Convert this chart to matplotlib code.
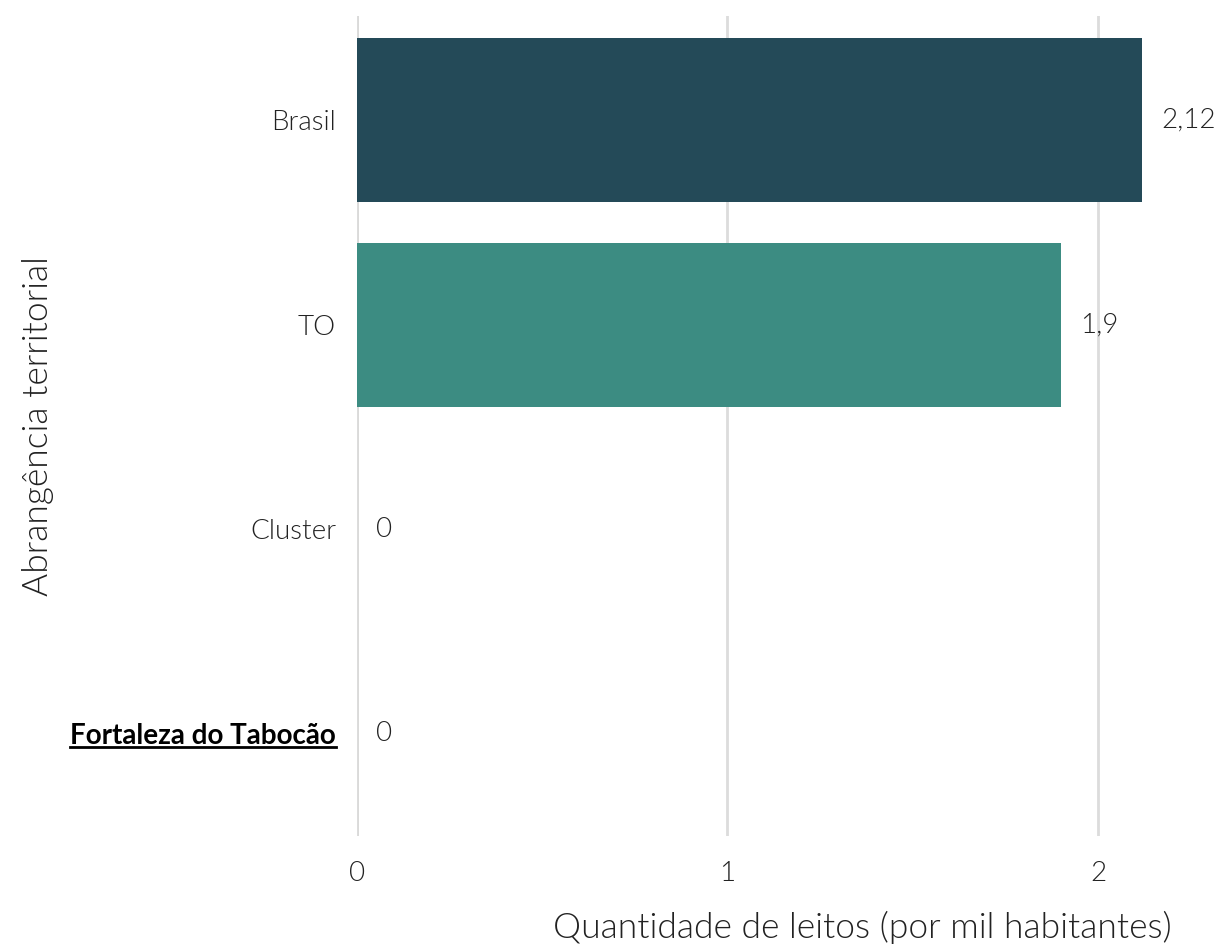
import matplotlib
matplotlib.use("Agg")
import matplotlib.pyplot as plt
from matplotlib.lines import Line2D

categories = ["Brasil", "TO", "Cluster", "Fortaleza do Tabocão"]
values = [2.12, 1.9, 0.0, 0.0]
value_labels = ["2,12", "1,9", "0", "0"]
colors = ["#244a58", "#3c8c82", "#3c8c82", "#3c8c82"]
xticks = [0, 1, 2]
xtick_labels = ["0", "1", "2"]
highlight = "Fortaleza do Tabocão"

plt.rcParams['font.family'] = ['Lato', 'DejaVu Sans']
W = 300
TXT = "#222222"
FS = 20
LFS = 25.5

fig = plt.figure(figsize=(12.2, 9.48), dpi=100)
ax = fig.add_axes([357/1220, 112/948, (1172-357)/1220, (932-112)/948])

ypos = list(range(len(categories)))
ax.barh(ypos, values, height=0.8, color=colors, zorder=2)
ax.set_ylim(len(categories) - 0.5, -0.51)
ax.set_xlim(0, 2.2)

for y, v, lab in zip(ypos, values, value_labels):
    ax.annotate(lab, xy=(v, y), xytext=(19, 0), textcoords="offset pixels",
                ha="left", va="center", fontsize=FS, fontweight=W, color=TXT,
                annotation_clip=False)

ax.set_xticks(xticks)
ax.set_xticklabels(xtick_labels, fontsize=FS, fontweight=W, color=TXT)
ax.set_yticks(ypos)
ax.set_yticklabels(categories, fontsize=FS, fontweight=W, color=TXT)
ax.tick_params(axis="y", length=0, pad=15)
ax.tick_params(axis="x", length=0, pad=18)
for t in ax.get_yticklabels():
    if t.get_text() == highlight:
        t.set_fontweight("bold")
        t.set_color("black")

ax.grid(axis="x", color="#dcdcdc", linewidth=2, zorder=0)
ax.axvline(0, color="#c9c5c0", linewidth=2, zorder=1)
for s in ax.spines.values():
    s.set_visible(False)

ax.set_xlabel("Quantidade de leitos (por mil habitantes)", fontsize=LFS, fontweight=W,
              color=TXT, labelpad=18, loc="right")
ax.set_ylabel("Abrangência territorial", fontsize=LFS, fontweight=W, color=TXT, labelpad=12)

fig.canvas.draw()
renderer = fig.canvas.get_renderer()
for t in ax.get_yticklabels():
    if t.get_text() == highlight:
        bb = t.get_window_extent(renderer)
        y0 = bb.y0 + 2
        line = Line2D([bb.x0, bb.x1], [y0, y0], transform=None, color="black", linewidth=2)
        fig.add_artist(line)

fig.savefig("out.png", dpi=100)
